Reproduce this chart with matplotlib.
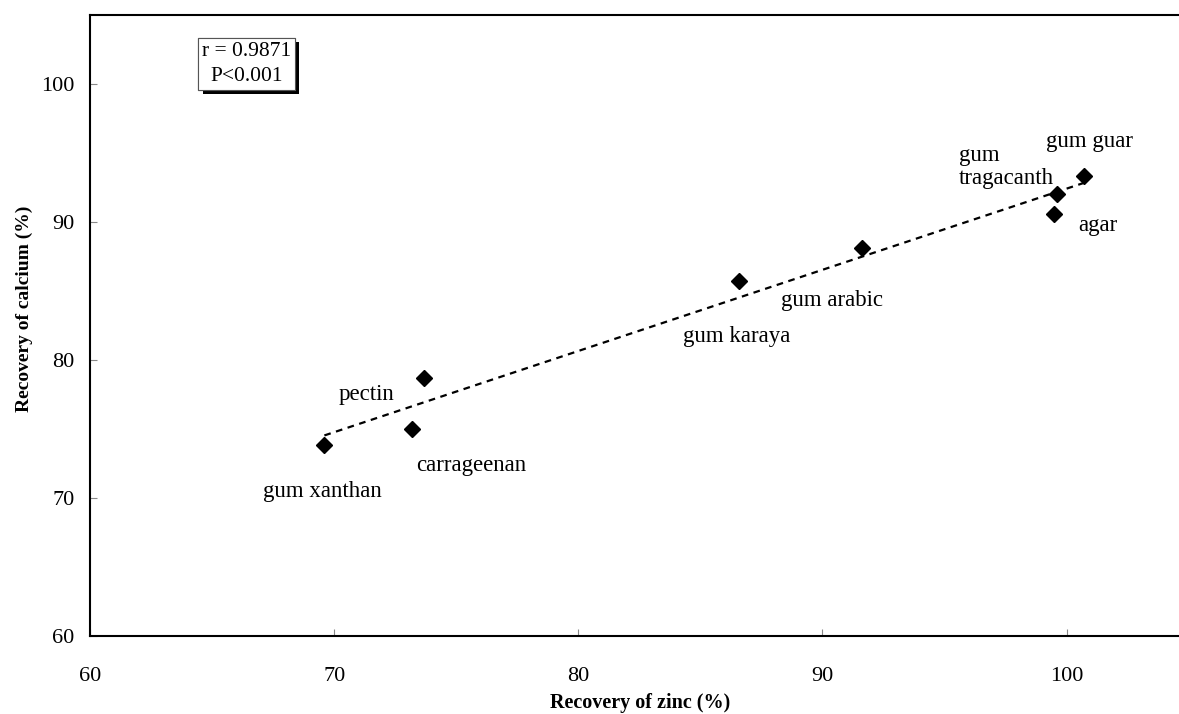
import numpy as np
import matplotlib
matplotlib.use('Agg')
import matplotlib.pyplot as plt
import matplotlib.patheffects as pe

# recovery data
names = ['gum xanthan', 'carrageenan', 'pectin', 'gum karaya',
         'gum arabic', 'gum\ntragacanth', 'gum guar', 'agar']
zinc = [69.6, 73.2, 73.7, 86.6, 91.6, 99.6, 100.7, 99.5]
calcium = [73.8, 75.0, 78.7, 85.7, 88.1, 92.0, 93.3, 90.6]

# label offsets from each point (pixels)
label_offsets = [(-61, -46), (4, -37), (-86, -17), (-56, -55),
                 (-81, -52), (-98, 27), (-38, 35), (24, -12)]

x_ticks = [60, 70, 80, 90, 100]
y_ticks = [60, 70, 80, 90, 100]

plt.rcParams['font.family'] = ['Liberation Serif', 'DejaVu Serif']

fig = plt.figure(figsize=(11.79, 7.14), dpi=100)
ax = fig.add_axes([0.0763, 0.1092, 0.9237, 0.8702])

x = np.array(zinc)
y = np.array(calcium)
slope, intercept = np.polyfit(x, y, 1)
xf = np.array([x.min(), x.max()])
ax.plot(xf, slope * xf + intercept, color='black', lw=1.6,
        linestyle=(0, (3, 2.5)))

ax.plot(x, y, 'D', color='black', ms=8.5, zorder=3)

for name, xi, yi, off in zip(names, zinc, calcium, label_offsets):
    ax.annotate(name, (xi, yi), xytext=off, textcoords='offset pixels',
                ha='left', va='center', fontsize=16.5, linespacing=1.15)

ax.set_xlim(60, 104.6)
ax.set_ylim(60, 105)
ax.set_xticks(x_ticks)
ax.set_yticks(y_ticks)
ax.tick_params(direction='in', length=5, width=0.8, color='#888888',
               labelsize=16)
ax.tick_params(axis='x', pad=22)
ax.tick_params(axis='y', pad=11)

for side in ['left', 'bottom', 'top']:
    ax.spines[side].set_linewidth(1.5)
ax.spines['right'].set_visible(False)

ax.set_xlabel('Recovery of zinc (%)', fontsize=14.5, fontweight='bold')
ax.set_ylabel('Recovery of calcium (%)', fontsize=14, fontweight='bold')
ax.xaxis.set_label_coords(0.505, -0.092)
ax.yaxis.set_label_coords(-0.052, 0.527)

t = ax.text(0.144, 0.921, 'r = 0.9871\nP<0.001', transform=ax.transAxes,
            ha='center', va='center', fontsize=15.5, linespacing=1.45,
            bbox=dict(boxstyle='square,pad=0.18', fc='white', ec='#555555', lw=0.8))
t.get_bbox_patch().set_path_effects([
    pe.withSimplePatchShadow(offset=(3, -3), shadow_rgbFace='black', alpha=1.0),
    pe.Normal()])

fig.savefig('out.png', dpi=100)
